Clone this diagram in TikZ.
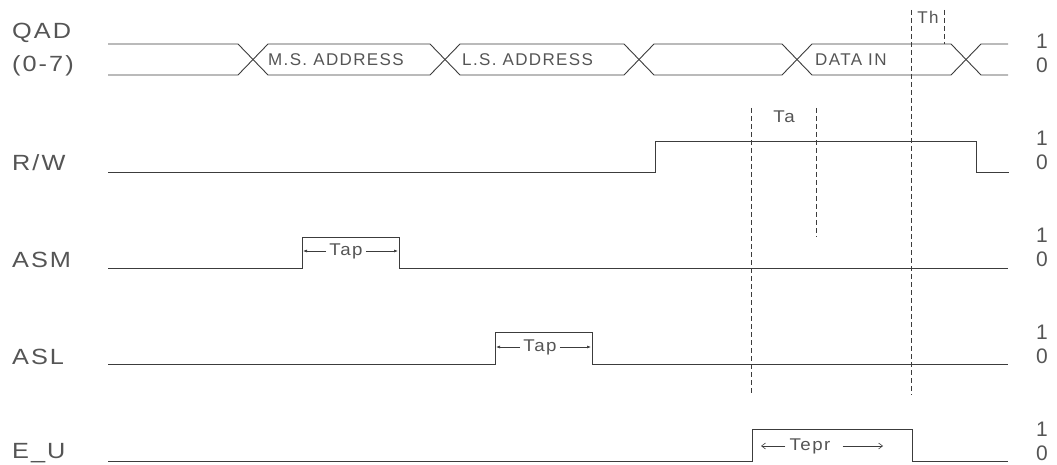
\documentclass[tikz,border=0pt]{standalone}
\usepackage{fontspec}
\setmainfont{Liberation Sans}
\usetikzlibrary{arrows.meta}
\definecolor{ink}{HTML}{3C3C3C}
\definecolor{txt}{HTML}{555555}
\newcommand\wtx[2][1.25]{\scalebox{#1}[1]{\addfontfeature{LetterSpace=8}#2}}
\begin{document}
\begin{tikzpicture}[x=1pt,y=-1pt,
  sig/.style={draw=ink,line width=0.9pt},
  guide/.style={draw=ink,line width=0.7pt,dash pattern=on 5pt off 3pt},
  biglab/.style={text=txt,font=\fontsize{22}{22}\selectfont,inner sep=0pt,anchor=west},
  lvl/.style={text=txt,font=\fontsize{21}{21}\selectfont,inner sep=0pt},
  buslab/.style={text=txt,font=\fontsize{17}{17}\selectfont,inner sep=0pt,anchor=west},
  tlab/.style={text=txt,font=\fontsize{17}{17}\selectfont,inner sep=0pt},
  dimarr/.style={draw=ink,line width=0.6pt,-{Latex[length=4pt,width=3pt]}},
  dimarrb/.style={draw=ink,line width=0.6pt,-{Straight Barb[length=4pt,width=6pt]}}
]
\useasboundingbox (0,0) rectangle (1057,465);

% ---------- left labels ----------
\node[biglab] (lqad) at (12,33) {\wtx[1.15]{QAD}};
\node[biglab] (lqad2) at (12,66) {\wtx[1.15]{(0-7)}};
\node[biglab] (lrw) at (12,163) {\wtx[1.15]{R/W}};
\node[biglab] (lasm) at (12,260) {\wtx[1.15]{ASM}};
\node[biglab] (lasl) at (12,357) {\wtx[1.15]{ASL}};
\node[biglab] (leu) at (12,453) {\wtx[1.15]{E\_U}};

% ---------- right levels ----------
\foreach \n/\y in {a/44,b/141,c/238,d/335,e/432}{
  \node[lvl] (one\n) at (1042,\y-3) {1};
  \node[lvl] (zero\n) at (1042,\y+21) {0};
}

% ---------- QAD bus ----------
\def\bt{44}\def\bb{75}\def\h{15}
\draw[sig] (108,\bt) -- (253-\h,\bt) -- (253+\h,\bb) -- (445-\h,\bb) -- (445+\h,\bt)
  -- (639-\h,\bt) -- (639+\h,\bb) -- (797-\h,\bb) -- (797+\h,\bt) -- (966-\h,\bt) -- (966+\h,\bb) -- (1008,\bb);
\draw[sig] (108,\bb) -- (253-\h,\bb) -- (253+\h,\bt) -- (445-\h,\bt) -- (445+\h,\bb)
  -- (639-\h,\bb) -- (639+\h,\bt) -- (797-\h,\bt) -- (797+\h,\bb) -- (966-\h,\bb) -- (966+\h,\bt) -- (1008,\bt);
\node[buslab] (ms) at (268,60) {\wtx[1.0]{M.S. ADDRESS}};
\node[buslab] (ls) at (462,60) {\wtx[1.0]{L.S. ADDRESS}};
\node[buslab] (din) at (815,60) {\wtx[1.0]{DATA IN}};

% ---------- R/W ----------
\draw[sig] (108,172) -- (655,172) -- (655,141) -- (976,141) -- (976,172) -- (1009,172);

% ---------- ASM ----------
\draw[sig] (108,268) -- (302,268) -- (302,237) -- (399,237) -- (399,268) -- (1008,268);
\node[tlab] (tap1) at (346,251) {\wtx[1.1]{Tap}};
\draw[dimarr] (tap1.west) ++(-3,0) -- (303,251);
\draw[dimarr] (tap1.east) ++(3,0) -- (398,251);

% ---------- ASL ----------
\draw[sig] (108,364) -- (495,364) -- (495,332) -- (592,332) -- (592,364) -- (1008,364);
\node[tlab] (tap2) at (540,347) {\wtx[1.1]{Tap}};
\draw[dimarr] (tap2.west) ++(-3,0) -- (496,347);
\draw[dimarr] (tap2.east) ++(3,0) -- (591,347);

% ---------- E_U ----------
\draw[sig] (108,461) -- (752,461) -- (752,429) -- (912,429) -- (912,461) -- (1008,461);
\node[tlab] (tepr) at (810,446) {\wtx[1.1]{Tepr}};
\draw[dimarrb] (tepr.west) ++(-4,0) -- (761,446);
\draw[dimarrb] (tepr.east) ++(12,0) -- (883,446);

% ---------- timing guides ----------
\coordinate (ga1) at (751,108); \coordinate (ga2) at (751,395);
\coordinate (gb1) at (816,108); \coordinate (gb2) at (816,237);
\coordinate (gc1) at (911,10);  \coordinate (gc2) at (911,395);
\coordinate (gd1) at (944,10);  \coordinate (gd2) at (944,44);
\draw[guide] (ga1) -- (ga2);
\draw[guide] (gb1) -- (gb2);
\draw[guide] (gc1) -- (gc2);
\draw[guide] (gd1) -- (gd2);
\node[tlab] (ta) at (784,117) {\wtx[1.1]{Ta}};
\node[tlab] (th) at (928,17) {\wtx[1.0]{Th}};
\end{tikzpicture}
\end{document}
